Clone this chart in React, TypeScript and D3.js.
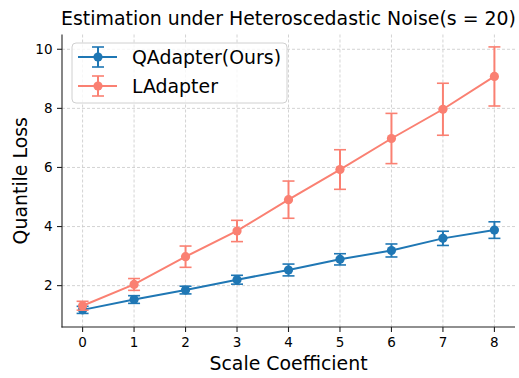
import React, { useEffect } from "react";
import * as d3 from "d3";

const scaleCoef = [0, 1, 2, 3, 4, 5, 6, 7, 8];
const qMean = [1.18, 1.53, 1.85, 2.2, 2.53, 2.89, 3.19, 3.6, 3.88];
const qErr = [0.12, 0.13, 0.13, 0.15, 0.2, 0.19, 0.22, 0.24, 0.28];
const lMean = [1.32, 2.04, 2.98, 3.85, 4.91, 5.93, 6.98, 7.97, 9.08];
const lErr = [0.15, 0.2, 0.36, 0.36, 0.63, 0.67, 0.85, 0.88, 1.0];
const xTicks = [0, 1, 2, 3, 4, 5, 6, 7, 8];
const yTicks = [2, 4, 6, 8, 10];

const SERIES = [
  { label: "QAdapter(Ours)", color: "#1f77b4", mean: qMean, err: qErr },
  { label: "LAdapter", color: "#fa8072", mean: lMean, err: lErr },
];

const W = 519;
const H = 378;
const FONT = "DejaVu Sans, sans-serif";

export default function App() {
  useEffect(() => {
    document.body.style.margin = "0";
  }, []);

  const left = 62;
  const right = 515;
  const top = 34.5;
  const bottom = 327;

  const x = d3.scaleLinear().domain([-0.4, 8.4]).range([left, right]);
  const y = d3.scaleLinear().domain([0.6, 10.5]).range([bottom, top]);
  const line = d3
    .line<number>()
    .x((_, i) => x(scaleCoef[i]))
    .y((d) => y(d));

  const cap = 6;
  const r = 4.6;

  return (
    <svg width={W} height={H} style={{ display: "block", background: "#fff" }} fontFamily={FONT}>
      {/* Title */}
      <text x={(left + right) / 2} y={25} fontSize={18.9} textAnchor="middle" fill="#000">
        Estimation under Heteroscedastic Noise(s = 20)
      </text>

      {/* Grid */}
      {xTicks.map((t) => (
        <line key={"gx" + t} x1={x(t)} x2={x(t)} y1={top} y2={bottom} stroke="#c8c8c8" strokeWidth={0.8} strokeDasharray="3,2" />
      ))}
      {yTicks.map((t) => (
        <line key={"gy" + t} x1={left} x2={right} y1={y(t)} y2={y(t)} stroke="#c8c8c8" strokeWidth={0.8} strokeDasharray="3,2" />
      ))}

      {/* Series */}
      {SERIES.map((s) => (
        <g key={s.label}>
          <path d={line(s.mean) || ""} fill="none" stroke={s.color} strokeWidth={2} />
          {s.mean.map((m, i) => {
            const cx = x(scaleCoef[i]);
            const y0 = y(m - s.err[i]);
            const y1 = y(m + s.err[i]);
            return (
              <g key={i}>
                <line x1={cx} x2={cx} y1={y0} y2={y1} stroke={s.color} strokeWidth={2} />
                <line x1={cx - cap} x2={cx + cap} y1={y0} y2={y0} stroke={s.color} strokeWidth={1.6} />
                <line x1={cx - cap} x2={cx + cap} y1={y1} y2={y1} stroke={s.color} strokeWidth={1.6} />
                <circle cx={cx} cy={y(m)} r={r} fill={s.color} />
              </g>
            );
          })}
        </g>
      ))}

      {/* Axes */}
      <line x1={left} x2={left} y1={top} y2={bottom + 0.5} stroke="#222" strokeWidth={1.1} />
      <line x1={left - 0.5} x2={right} y1={bottom} y2={bottom} stroke="#222" strokeWidth={1.1} />
      {xTicks.map((t) => (
        <g key={"tx" + t}>
          <line x1={x(t)} x2={x(t)} y1={bottom} y2={bottom + 5} stroke="#222" strokeWidth={1.1} />
          <text x={x(t)} y={bottom + 20} fontSize={13.5} textAnchor="middle" fill="#000">
            {t}
          </text>
        </g>
      ))}
      {yTicks.map((t) => (
        <g key={"ty" + t}>
          <line x1={left - 5} x2={left} y1={y(t)} y2={y(t)} stroke="#222" strokeWidth={1.1} />
          <text x={left - 9.5} y={y(t)} dy="0.35em" fontSize={13.5} textAnchor="end" fill="#000">
            {t}
          </text>
        </g>
      ))}

      {/* Axis labels */}
      <text x={(left + right) / 2} y={370} fontSize={18.9} textAnchor="middle" fill="#000">
        Scale Coefficient
      </text>
      <text transform={`translate(27,${(top + bottom) / 2}) rotate(-90)`} fontSize={18.9} textAnchor="middle" fill="#000">
        Quantile Loss
      </text>

      {/* Legend */}
      <g transform="translate(72,43)">
        <rect x={0} y={0} width={215} height={60} rx={4} fill="#fff" fillOpacity={0.8} stroke="#d0d0d0" strokeWidth={1} />
        {SERIES.map((s, i) => {
          const cy = 14 + i * 29;
          return (
            <g key={s.label}>
              <line x1={6} x2={45} y1={cy} y2={cy} stroke={s.color} strokeWidth={2} />
              <line x1={26} x2={26} y1={cy - 10} y2={cy + 10} stroke={s.color} strokeWidth={2} />
              <line x1={20} x2={32} y1={cy - 10} y2={cy - 10} stroke={s.color} strokeWidth={1.6} />
              <line x1={20} x2={32} y1={cy + 10} y2={cy + 10} stroke={s.color} strokeWidth={1.6} />
              <circle cx={26} cy={cy} r={r} fill={s.color} />
              <text x={60} y={cy} dy="0.35em" fontSize={18.9} fill="#000">
                {s.label}
              </text>
            </g>
          );
        })}
      </g>
    </svg>
  );
}
